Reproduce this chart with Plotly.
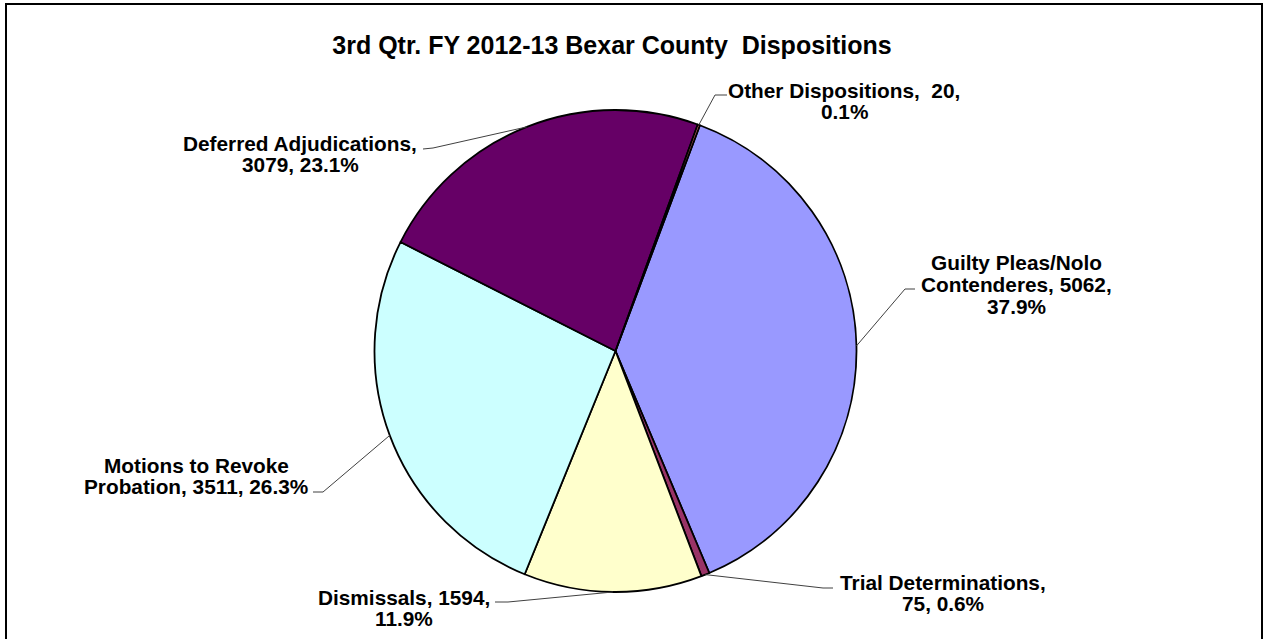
import numpy as np
import plotly.graph_objects as go

# ---------------- data ----------------
categories = ["Guilty Pleas/Nolo Contenderes", "Trial Determinations", "Dismissals",
              "Motions to Revoke Probation", "Deferred Adjudications", "Other Dispositions"]
values = [5062, 75, 1594, 3511, 3079, 20]
label_lines = [
    ["Guilty Pleas/Nolo", "Contenderes, {v},", "{p}"],
    ["Trial Determinations,", "{v}, {p}"],
    ["Dismissals, {v},", "{p}"],
    ["Motions to Revoke", "Probation, {v}, {p}"],
    ["Deferred Adjudications,", "{v}, {p}"],
    ["Other Dispositions,\u00a0\u00a0{v},", "{p}"],
]
title_text = "3rd Qtr. FY 2012-13 Bexar County\u00a0\u00a0Dispositions"

# ---------------- style / layout ----------------
colors = ["#9999FF", "#993366", "#FFFFCC", "#CCFFFF", "#660066", "#FF8080"]
W, H = 1265, 639
CX, CY, R = 615.5, 351, 241
ROT = 20.5
FONT = "Liberation Sans, Arial, sans-serif"
LBL_SIZE = 20.8
LINE_GAP = 21.5
# first-line centre of each label (px) and leader stub (label end, elbow) (px)
label_pos = [(1016, 263), (943, 582), (404, 597), (196, 465), (300, 143), (844, 90)]
stubs = [((915, 289), (905, 289)), ((833, 588), (823, 588)), ((495, 602), (508, 602)),
         ((313, 492), (323, 492)), ((423, 149), (433, 148)), ((727, 95), (715, 95))]


def px2p(x, y):
    return x / W, 1 - y / H


total = sum(values)
fig = go.Figure()
fig.add_trace(go.Pie(
    labels=categories, values=values, sort=False, direction="clockwise",
    rotation=ROT, textinfo="none", showlegend=False,
    marker=dict(colors=colors, line=dict(color="black", width=1.8)),
    domain=dict(x=[(CX - R) / W, (CX + R) / W], y=[1 - (CY + R) / H, 1 - (CY - R) / H]),
))

annotations = []
shapes = []
cum = 0.0
for i, v in enumerate(values):
    mid = np.deg2rad(ROT + 360.0 * (cum + v / 2.0) / total)
    cum += v
    ex, ey = CX + R * np.sin(mid), CY - R * np.cos(mid)
    pct = f"{100.0 * v / total:.1f}%"
    lx, ly = label_pos[i]
    for k, line in enumerate(label_lines[i]):
        xp, yp = px2p(lx, ly + k * LINE_GAP)
        annotations.append(dict(
            text=line.format(v=v, p=pct), x=xp, y=yp, xref="paper", yref="paper",
            xanchor="center", yanchor="middle", showarrow=False,
            font=dict(family=FONT, size=LBL_SIZE, color="black", weight="bold")))
    (sx, sy), (bx, by) = stubs[i]
    p0, p1, p2 = px2p(sx, sy), px2p(bx, by), px2p(ex, ey)
    shapes.append(dict(type="path", xref="paper", yref="paper",
                       path=f"M {p0[0]},{p0[1]} L {p1[0]},{p1[1]} L {p2[0]},{p2[1]}",
                       line=dict(color="#404040", width=1)))

# outer chart frame
shapes.append(dict(type="rect", xref="paper", yref="paper",
                   x0=6 / W, x1=1262 / W, y0=1 - 4 / H, y1=1 - 645 / H,
                   line=dict(color="black", width=2), fillcolor="rgba(0,0,0,0)"))

tx, ty = px2p(612, 45)
fig.update_layout(
    width=W, height=H, margin=dict(l=0, r=0, t=0, b=0),
    paper_bgcolor="white", plot_bgcolor="white",
    title=dict(text=title_text, x=tx, y=ty, xanchor="center", yanchor="middle",
               xref="paper", yref="paper",
               font=dict(family=FONT, size=25, color="black", weight="bold")),
    annotations=annotations, shapes=shapes,
)

fig.write_html("out.html", config={"displayModeBar": False},
               post_script="document.body.style.margin='0';document.body.style.overflow='hidden';")
